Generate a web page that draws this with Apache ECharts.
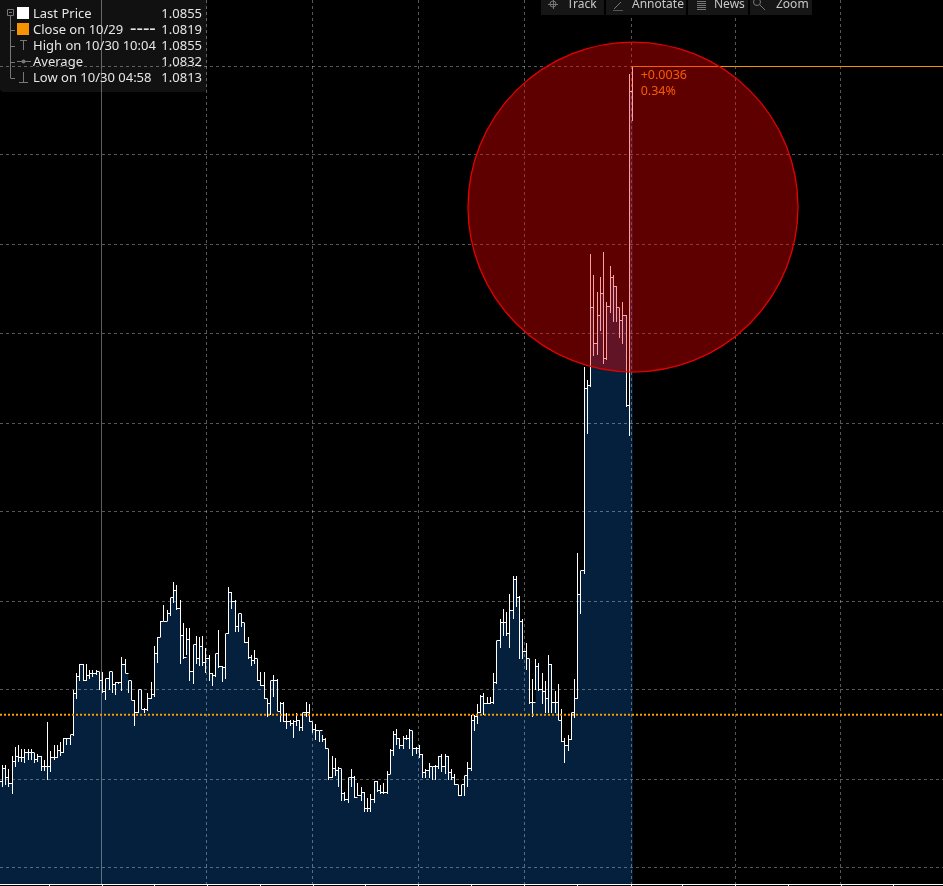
<!DOCTYPE html>
<html><head><meta charset="utf-8">
<style>html,body{margin:0;padding:0;background:#000}#c{width:943px;height:886px}</style>
<script src="https://cdn.jsdelivr.net/npm/echarts@6/dist/echarts.min.js"></script>
</head><body><div id="c"></div>
<script>
const highs=[1.08157,1.08162,1.08162,1.08160,1.08167,1.08172,1.08173,1.08171,1.08171,1.08171,1.08171,1.08169,1.08168,1.08167,1.08165,1.08186,1.08170,1.08173,1.08173,1.08175,1.08177,1.08177,1.08179,1.08204,1.08213,1.08218,1.08218,1.08218,1.08215,1.08215,1.08215,1.08214,1.08214,1.08210,1.08214,1.08214,1.08208,1.08208,1.08222,1.08221,1.08209,1.08209,1.08198,1.08204,1.08204,1.08194,1.08202,1.08208,1.08228,1.08233,1.08242,1.08251,1.08248,1.08255,1.08264,1.08262,1.08254,1.08241,1.08238,1.08238,1.08229,1.08234,1.08233,1.08234,1.08227,1.08223,1.08213,1.08224,1.08237,1.08217,1.08235,1.08261,1.08258,1.08254,1.08246,1.08246,1.08241,1.08233,1.08223,1.08226,1.08221,1.08214,1.08214,1.08199,1.08209,1.08212,1.08210,1.08197,1.08197,1.08191,1.08187,1.08187,1.08191,1.08187,1.08191,1.08197,1.08196,1.08186,1.08185,1.08181,
1.08179,1.08177,1.08171,1.08167,1.08166,1.08161,1.08160,1.08147,1.08155,1.08160,1.08156,1.08152,1.08150,1.08147,1.08144,1.08146,1.08153,1.08153,1.08151,1.08152,1.08159,1.08171,1.08181,1.08182,1.08177,1.08178,1.08179,1.08182,1.08181,1.08172,1.08173,1.08168,1.08160,1.08163,1.08161,1.08162,1.08167,1.08168,1.08168,1.08167,1.08160,1.08157,1.08151,1.08151,1.08156,1.08164,1.08190,1.08190,1.08196,1.08201,1.08202,1.08200,1.08200,1.08213,1.08231,1.08243,1.08249,1.08247,1.08257,1.08267,1.08267,1.08256,1.08243,1.08230,1.08221,1.08210,1.08221,1.08219,1.08213,1.08209,1.08223,1.08218,1.08203,1.08207,1.08193,1.08177,1.08179,1.08191,1.08210,1.08280,1.08270,1.08383,1.08376,1.08446,1.08434,1.08425,1.08433,1.08447,1.08419,1.08439,1.08434,1.08428,1.08416,1.08419,1.08412,1.08546,1.08550];
const lows=[1.08150,1.08150,1.08151,1.08150,1.08146,1.08161,1.08164,1.08164,1.08163,1.08165,1.08165,1.08163,1.08164,1.08159,1.08159,1.08154,1.08158,1.08165,1.08166,1.08167,1.08169,1.08173,1.08173,1.08178,1.08199,1.08209,1.08209,1.08209,1.08210,1.08211,1.08212,1.08204,1.08202,1.08198,1.08204,1.08202,1.08201,1.08207,1.08203,1.08213,1.08202,1.08198,1.08184,1.08191,1.08193,1.08191,1.08192,1.08199,1.08200,1.08219,1.08233,1.08242,1.08242,1.08245,1.08252,1.08248,1.08218,1.08221,1.08223,1.08209,1.08207,1.08218,1.08217,1.08217,1.08213,1.08209,1.08206,1.08211,1.08216,1.08208,1.08210,1.08235,1.08249,1.08236,1.08236,1.08239,1.08230,1.08221,1.08217,1.08218,1.08209,1.08206,1.08199,1.08189,1.08190,1.08200,1.08192,1.08186,1.08186,1.08182,1.08184,1.08177,1.08184,1.08181,1.08181,1.08189,1.08186,1.08180,1.08176,1.08175,
1.08175,1.08171,1.08154,1.08155,1.08156,1.08150,1.08142,1.08142,1.08141,1.08150,1.08144,1.08145,1.08142,1.08136,1.08136,1.08136,1.08141,1.08147,1.08146,1.08146,1.08146,1.08157,1.08167,1.08173,1.08171,1.08171,1.08176,1.08171,1.08167,1.08168,1.08166,1.08155,1.08155,1.08155,1.08154,1.08154,1.08160,1.08158,1.08157,1.08154,1.08154,1.08151,1.08145,1.08145,1.08145,1.08150,1.08159,1.08181,1.08185,1.08191,1.08190,1.08196,1.08196,1.08196,1.08207,1.08227,1.08234,1.08234,1.08227,1.08243,1.08250,1.08221,1.08221,1.08215,1.08196,1.08189,1.08204,1.08203,1.08196,1.08191,1.08191,1.08191,1.08191,1.08187,1.08175,1.08163,1.08170,1.08176,1.08188,1.08199,1.08246,1.08268,1.08346,1.08372,1.08389,1.08390,1.08403,1.08385,1.08387,1.08413,1.08408,1.08408,1.08399,1.08396,1.08361,1.08345,1.08520];
const closes=[1.08153,1.08160,1.08155,1.08152,1.08164,1.08167,1.08166,1.08166,1.08169,1.08169,1.08169,1.08165,1.08167,1.08161,1.08161,1.08161,1.08166,1.08166,1.08170,1.08169,1.08177,1.08177,1.08179,1.08202,1.08211,1.08218,1.08209,1.08212,1.08213,1.08213,1.08214,1.08209,1.08203,1.08210,1.08214,1.08207,1.08208,1.08208,1.08218,1.08213,1.08209,1.08198,1.08191,1.08204,1.08193,1.08193,1.08199,1.08201,1.08224,1.08233,1.08242,1.08242,1.08246,1.08255,1.08259,1.08249,1.08234,1.08222,1.08232,1.08214,1.08229,1.08221,1.08228,1.08219,1.08221,1.08213,1.08212,1.08224,1.08217,1.08216,1.08235,1.08258,1.08253,1.08239,1.08246,1.08241,1.08230,1.08222,1.08220,1.08221,1.08209,1.08206,1.08199,1.08196,1.08209,1.08209,1.08192,1.08196,1.08186,1.08186,1.08185,1.08186,1.08187,1.08183,1.08191,1.08191,1.08186,1.08182,1.08181,1.08181,
1.08176,1.08171,1.08155,1.08160,1.08159,1.08160,1.08146,1.08143,1.08155,1.08155,1.08144,1.08145,1.08147,1.08138,1.08138,1.08143,1.08153,1.08148,1.08147,1.08147,1.08157,1.08170,1.08179,1.08177,1.08173,1.08177,1.08177,1.08181,1.08171,1.08171,1.08168,1.08158,1.08159,1.08161,1.08161,1.08161,1.08167,1.08161,1.08167,1.08158,1.08155,1.08151,1.08145,1.08151,1.08156,1.08160,1.08187,1.08189,1.08191,1.08200,1.08196,1.08196,1.08197,1.08208,1.08231,1.08241,1.08241,1.08235,1.08248,1.08265,1.08255,1.08242,1.08225,1.08221,1.08197,1.08197,1.08217,1.08204,1.08203,1.08199,1.08218,1.08197,1.08197,1.08187,1.08175,1.08173,1.08176,1.08191,1.08199,1.08257,1.08270,1.08371,1.08373,1.08416,1.08396,1.08412,1.08424,1.08388,1.08417,1.08433,1.08428,1.08416,1.08409,1.08412,1.08362,1.08536,1.08550];

const priceRange=[1.08096,1.08587];
const indexRange=[-0.72,291];
const priceGrid=[1.08550,1.08501,1.08451,1.08402,1.08352,1.08303,1.08253,1.08204,1.08154,1.08105];
const timeGrid=[63.3,96.1,128.6,161.4,194.5,226.8,259.4];
const sessionMarker=[30.8];
const timeTicks=[14.4,30.8,47,63.3,79.7,96.1,112.3,128.6,145,161.4,177.8,194.5,210.3,226.7,243.1,259.4,275.5];
const prevClose=1.0819, lastPrice=1.0855;
const changeLabels=['+0.0036','0.34%'];
const highlight=[[195.1,1.08472]];
const legendRows=[['Last Price','1.0855'],['Close on 10/29','1.0819'],['High on 10/30 10:04','1.0855'],['Average','1.0832'],['Low on 10/30 04:58','1.0813']];
const toolbar=[['Track',541,63,567],['Annotate',606,80,632],['News',688,60,714],['Zoom',750,62,776]];

const FONT='"Noto Sans"';
const bars=closes.map((c,i)=>[i-1,highs[i],lows[i],c]);
const lastIdx=closes.length-2;
const gridStroke={stroke:'rgba(255,255,255,0.34)',lineWidth:1,lineDash:[3,3]};
const crisp=v=>Math.floor(v)+0.5;

function hRule(y,x1,x2,style){y=crisp(y);return {type:'line',shape:{x1,y1:y,x2,y2:y},style};}
function vRule(x,y1,y2,style){x=crisp(x);return {type:'line',shape:{x1:x,y1,x2:x,y2},style};}

const series=[
 {type:'line',name:'Last Price',z:1,step:'end',symbol:'none',silent:true,animation:false,
  data:closes.map((c,i)=>[i-1,c]),lineStyle:{width:0},itemStyle:{color:'#04203c'},areaStyle:{color:'#04203c',opacity:1,origin:'start'}},
 {type:'custom',name:'priceGrid',z:2,silent:true,animation:false,data:priceGrid.map(v=>[0,v]),
  renderItem(p,api){const y=api.coord([0,api.value(1)])[1];return hRule(y,0,943,gridStroke);}},
 {type:'custom',name:'timeGrid',z:2,silent:true,animation:false,data:timeGrid.map(v=>[v,0]),
  renderItem(p,api){const x=api.coord([api.value(0),priceRange[0]])[0];return vRule(x,0,884,gridStroke);}},
 {type:'custom',name:'session',z:2,silent:true,animation:false,data:sessionMarker.map(v=>[v,0]),
  renderItem(p,api){const x=api.coord([api.value(0),priceRange[0]])[0];return vRule(x,0,884,{stroke:'rgba(255,255,255,0.36)',lineWidth:1});}},
 {type:'custom',name:'bars',z:3,silent:true,animation:false,data:bars,encode:{x:0,y:[1,2,3]},
  renderItem(p,api){
   const i=api.value(0),h=api.coord([i,api.value(1)]),l=api.coord([i,api.value(2)]),c=api.coord([i,api.value(3)]),n=api.coord([i+1,api.value(3)]);
   const st={stroke:'#fff',lineWidth:1};
   return {type:'group',children:[vRule(h[0],Math.round(h[1]),Math.round(l[1]),st),hRule(c[1],crisp(c[0]),crisp(n[0]),st)]};
  }},
 {type:'custom',name:'Close',z:4,silent:true,animation:false,data:[[0,prevClose]],
  renderItem(p,api){const y=api.coord([0,api.value(1)])[1];return {type:'line',shape:{x1:0,y1:y,x2:943,y2:y},style:{stroke:'#ff9900',lineWidth:2,lineDash:[2,2]}};}},
 {type:'custom',name:'LastLine',z:4,silent:true,animation:false,data:[[lastIdx,lastPrice]],
  renderItem(p,api){const c=api.coord([api.value(0),api.value(1)]);
   return {type:'group',children:[hRule(c[1],c[0],943,{stroke:'#f59100',lineWidth:1}),
    {type:'text',x:c[0]+8,y:c[1]+2,style:{text:changeLabels[0],fill:'#f59100',font:'12.5px '+FONT}},
    {type:'text',x:c[0]+8,y:c[1]+18,style:{text:changeLabels[1],fill:'#f59100',font:'12.5px '+FONT}}]};}},
 {type:'scatter',name:'highlight',z:5,silent:true,animation:false,data:highlight,symbol:'circle',symbolSize:330,clip:false,
  itemStyle:{color:'rgba(255,0,0,0.37)',borderColor:'#e60000',borderWidth:1.3,opacity:1}}
];

const G='#777777';
const g=[];
g.push({type:'rect',z:100,shape:{x:0,y:0,width:207,height:92,r:[0,0,4,4]},style:{fill:'rgba(255,255,255,0.065)'}});
legendRows.forEach((r,i)=>{const y=14.5+16*i;
 g.push({type:'text',z:101,x:33,y,style:{text:r[0],fill:'#e6e6e6',font:'13px '+FONT,verticalAlign:'middle'}});
 g.push({type:'text',z:101,x:202,y,style:{text:r[1],fill:'#e6e6e6',font:'13px '+FONT,align:'right',verticalAlign:'middle'}});
});
g.push({type:'text',z:101,x:130,y:29.5,style:{text:'----',fill:'#e6e6e6',font:'20px '+FONT,verticalAlign:'middle'}});
g.push({type:'rect',z:101,shape:{x:17,y:7,width:12,height:12},style:{fill:'#fff'}});
g.push({type:'rect',z:101,shape:{x:17,y:23,width:12,height:12},style:{fill:'#f59300'}});
const ln=(x1,y1,x2,y2,c,w)=>g.push({type:'line',z:101,shape:{x1,y1,x2,y2},style:{stroke:c||G,lineWidth:w||1}});
g.push({type:'rect',z:101,shape:{x:7.5,y:9.5,width:6,height:6},style:{fill:'none',stroke:G}});
ln(9,12.5,12,12.5);ln(10.5,16,10.5,78);
[30.5,46.5,62.5,78.5].forEach(y=>ln(10.5,y,15,y));
ln(20,40.5,27,40.5);ln(23.5,40,23.5,50);
ln(17,61.5,31,61.5);g.push({type:'circle',z:101,shape:{cx:23.5,cy:61.5,r:2},style:{fill:G}});
ln(23.5,72,23.5,82);ln(19,82.5,28,82.5);
toolbar.forEach(t=>{
 g.push({type:'rect',z:100,shape:{x:t[1],y:0,width:t[2],height:15},style:{fill:'#161616'}});
 g.push({type:'text',z:101,x:t[3],y:5,style:{text:t[0],fill:'#c8c8c8',font:'12px '+FONT,verticalAlign:'middle'}});
});
g.push({type:'circle',z:101,shape:{cx:553,cy:4,r:3},style:{fill:'none',stroke:G}});
ln(548,4.5,558,4.5);ln(553.5,0,553.5,9);
ln(614,9,621,2);ln(613,10.5,623,10.5,'#555');
[1,3,5,7,9].forEach(y=>ln(697,y+.5,706,y+.5));
g.push({type:'circle',z:101,shape:{cx:757,cy:2,r:3.5},style:{fill:'none',stroke:G}});
ln(760,5,765,10);

const chart=echarts.init(document.getElementById('c'),null,{renderer:'canvas'});
chart.setOption({
 backgroundColor:'#000',animation:false,
 grid:{left:0,right:0,top:0,bottom:2,containLabel:false},
 xAxis:{type:'value',min:indexRange[0],max:indexRange[1],z:10,
  splitLine:{show:false},axisLabel:{show:false},
  axisLine:{show:true,onZero:false,lineStyle:{color:'#fff',width:1}},
  axisTick:{show:true,customValues:timeTicks,length:2,lineStyle:{color:'#fff',width:1}}},
 yAxis:{type:'value',min:priceRange[0],max:priceRange[1],show:false,splitLine:{show:false}},
 series,graphic:g
});
</script></body></html>
